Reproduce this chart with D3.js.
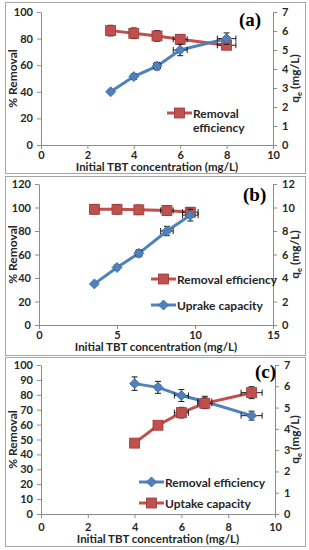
<!DOCTYPE html>
<html lang="en">
<head>
    <meta charset="UTF-8">
    <title>TBT removal</title>
    <script src="https://d3js.org/d3.v7.min.js"></script>
    <style>
        body { margin: 0; background: #fff; }
        svg { display: block; }
        text {
            font-family: Lato, "Liberation Sans", sans-serif;
            font-weight: 700;
            fill: #262626;
        }
        .panelLabel { font-family: "Liberation Serif", "DejaVu Serif", serif; font-size: 19px; fill: #000; }
        .axis path, .axis line { stroke: #8c8c8c; }
    </style>
</head>
<body>
<svg id="chart" width="309" height="550"></svg>

<script>
    // ---- data ----
    // panel (a)
    const concA = [3, 4, 5, 6, 8];
    const removalA = [86, 84, 82, 79.5, 75];
    const uptakeA = [2.8, 3.6, 4.15, 5.0, 5.6];
    const concErrA = [0, 0, 0.15, 0.3, 0.4];
    const removalErrA = [4, 4, 4, 3.5, 3];
    const uptakeErrA = [0.1, 0.15, 0.2, 0.3, 0.3];

    // panel (b)
    const concB = [3.55, 5, 6.4, 8.2, 9.7];
    const removalB = [98.5, 98.5, 98, 97.5, 96];
    const uptakeB = [3.5, 4.9, 6.1, 8.0, 9.35];
    const concErrB = [0, 0, 0.2, 0.4, 0.5];
    const removalErrB = [4, 4, 4, 4, 4];
    const uptakeErrB = [0.1, 0.2, 0.3, 0.4, 0.5];

    // panel (c)
    const concC = [4, 5, 6, 7, 9];
    const removalC = [87.5, 85, 79.5, 75.5, 66];
    const uptakeC = [3.33, 4.17, 4.76, 5.2, 5.7];
    const concErrC = [0, 0.1, 0.3, 0.3, 0.45];
    const removalErrC = [4.5, 4, 4, 3.5, 3];
    const uptakeErrC = [0.1, 0.15, 0.25, 0.25, 0.28];

    const xTitle = "Initial TBT concentration (mg/L)";
    const leftTitle = "% Removal";

    const red = { fill: "#c0504d", dark: "#9b3a37", shape: "square" };
    const blue = { fill: "#4f81bd", dark: "#3a689f", shape: "diamond" };

    const panels = [
        {
            label: "(a)", box: [5, 2, 305, 173], plot: [41, 12, 273, 145],
            xDomain: [0, 10], xTicks: [0, 2, 4, 6, 8, 10],
            left: [0, 100], leftTicks: d3.range(0, 101, 20),
            right: [0, 7], rightTicks: d3.range(0, 8, 1),
            tickY: 155, titleY: 167,
            series: [
                { name: ["Removal", "efficiency"], x: concA, y: removalA, yErr: removalErrA, xErr: concErrA, axis: "left", style: red, legend: [167, 113] },
                { name: null, x: concA, y: uptakeA, yErr: uptakeErrA, xErr: concErrA, axis: "right", style: blue }
            ],
            labelPos: [239, 26]
        },
        {
            label: "(b)", box: [5, 176, 305, 355], plot: [39, 184, 273, 325],
            xDomain: [0, 15], xTicks: [0, 5, 10, 15],
            left: [0, 120], leftTicks: d3.range(0, 121, 20),
            right: [0, 12], rightTicks: d3.range(0, 13, 2),
            tickY: 335, titleY: 347,
            series: [
                { name: ["Removal efficiency"], x: concB, y: removalB, yErr: removalErrB, xErr: concErrB, axis: "left", style: red, legend: [151, 279] },
                { name: ["Uprake capacity"], x: concB, y: uptakeB, yErr: uptakeErrB, xErr: concErrB, axis: "right", style: blue, legend: [151, 305] }
            ],
            labelPos: [243, 201]
        },
        {
            label: "(c)", box: [5, 357, 305, 546], plot: [41, 365, 275, 514],
            xDomain: [0, 10], xTicks: [0, 2, 4, 6, 8, 10],
            left: [0, 100], leftTicks: d3.range(0, 101, 10),
            right: [0, 7], rightTicks: d3.range(0, 8, 1),
            tickY: 527, titleY: 539,
            series: [
                { name: ["Removal efficiency"], x: concC, y: removalC, yErr: removalErrC, xErr: concErrC, axis: "left", style: blue, legend: [139, 482] },
                { name: ["Uptake capacity"], x: concC, y: uptakeC, yErr: uptakeErrC, xErr: concErrC, axis: "right", style: red, legend: [139, 503] }
            ],
            labelPos: [255, 378]
        }
    ];

    const svg = d3.select("#chart");

    function marker(g, shape, style, cx, cy) {
        if (shape === "square") {
            g.append("rect")
                .attr("x", cx - 5).attr("y", cy - 5)
                .attr("width", 10).attr("height", 10)
                .attr("fill", style.fill).attr("stroke", style.dark).attr("stroke-width", 0.8);
        } else {
            g.append("path")
                .attr("d", `M${cx},${cy - 5}L${cx + 5},${cy}L${cx},${cy + 5}L${cx - 5},${cy}Z`)
                .attr("fill", style.fill).attr("stroke", style.dark).attr("stroke-width", 0.8);
        }
    }

    function drawPanel(p) {
        const g = svg.append("g");
        const [bx0, by0, bx1, by1] = p.box;
        const [l, t, r, b] = p.plot;

        // chart area border
        g.append("rect")
            .attr("x", bx0 + 0.5).attr("y", by0 + 0.5)
            .attr("width", bx1 - bx0).attr("height", by1 - by0)
            .attr("fill", "none").attr("stroke", "#a6a6a6");

        const x = d3.scaleLinear().domain(p.xDomain).range([l, r]);
        const yL = d3.scaleLinear().domain(p.left).range([b, t]);
        const yR = d3.scaleLinear().domain(p.right).range([b, t]);

        // axes
        const xAxis = g.append("g").attr("class", "axis").attr("transform", `translate(0,${b})`)
            .call(d3.axisBottom(x).tickValues(p.xTicks).tickSize(4).tickSizeOuter(0).tickFormat(d3.format("d")));
        xAxis.selectAll("text").attr("y", null).attr("dy", null)
            .attr("transform", `translate(0,${p.tickY - b + 4})`)
            .style("font-size", "11px");

        const leftAxis = g.append("g").attr("class", "axis").attr("transform", `translate(${l},0)`)
            .call(d3.axisLeft(yL).tickValues(p.leftTicks).tickSize(4).tickSizeOuter(0).tickFormat(d3.format("d")));
        leftAxis.selectAll("text").attr("x", -8).style("font-size", "11px");

        const rightAxis = g.append("g").attr("class", "axis").attr("transform", `translate(${r},0)`)
            .call(d3.axisRight(yR).tickValues(p.rightTicks).tickSize(4).tickSizeOuter(0).tickFormat(d3.format("d")));
        rightAxis.selectAll("text").attr("x", 9).style("font-size", "11px");
        g.selectAll(".axis .domain").attr("stroke", "#8c8c8c");

        // axis titles
        g.append("text")
            .attr("x", (l + r) / 2).attr("y", p.titleY + 4)
            .attr("text-anchor", "middle").style("font-size", "11.5px")
            .text(xTitle);

        g.append("text")
            .attr("transform", `translate(${bx0 + 12},${(t + b) / 2}) rotate(-90)`)
            .attr("text-anchor", "middle").style("font-size", "12px")
            .text(leftTitle);

        const rt = g.append("text")
            .attr("transform", `translate(${bx1 - 6},${(t + b) / 2}) rotate(-90)`)
            .attr("text-anchor", "middle").style("font-size", "12px");
        rt.append("tspan").text("q");
        rt.append("tspan").attr("dy", 3).style("font-size", "7.5px").text("e");
        rt.append("tspan").attr("dy", -3).text(" (mg/L)");

        // panel label
        g.append("text").attr("class", "panelLabel")
            .attr("x", p.labelPos[0]).attr("y", p.labelPos[1])
            .text(p.label);

        // series
        p.series.forEach(s => {
            const yS = s.axis === "left" ? yL : yR;
            const pts = s.x.map((v, i) => ({ x: v, y: s.y[i], ye: s.yErr[i], xe: s.xErr[i] }));
            const sg = g.append("g");

            sg.append("path")
                .datum(pts)
                .attr("fill", "none")
                .attr("stroke", s.style.fill)
                .attr("stroke-width", 3)
                .attr("d", d3.line().x(d => x(d.x)).y(d => yS(d.y)));

            // error bars
            const eb = sg.append("g").attr("stroke", "#1a1a1a").attr("stroke-width", 1);
            pts.forEach(d => {
                const cx = x(d.x), cy = yS(d.y);
                const y0 = yS(d.y - d.ye), y1 = yS(d.y + d.ye);
                eb.append("line").attr("x1", cx).attr("x2", cx).attr("y1", y0).attr("y2", y1);
                eb.append("line").attr("x1", cx - 3).attr("x2", cx + 3).attr("y1", y0).attr("y2", y0);
                eb.append("line").attr("x1", cx - 3).attr("x2", cx + 3).attr("y1", y1).attr("y2", y1);
                if (d.xe > 0) {
                    const x0 = x(d.x - d.xe), x1 = x(d.x + d.xe);
                    eb.append("line").attr("x1", x0).attr("x2", x1).attr("y1", cy).attr("y2", cy);
                    eb.append("line").attr("x1", x0).attr("x2", x0).attr("y1", cy - 3).attr("y2", cy + 3);
                    eb.append("line").attr("x1", x1).attr("x2", x1).attr("y1", cy - 3).attr("y2", cy + 3);
                }
            });

            pts.forEach(d => marker(sg, s.style.shape, s.style, x(d.x), yS(d.y)));

            // legend entry
            if (s.name) {
                const [lx, ly] = s.legend;
                const lg = g.append("g");
                lg.append("line")
                    .attr("x1", lx).attr("x2", lx + 25).attr("y1", ly).attr("y2", ly)
                    .attr("stroke", s.style.fill).attr("stroke-width", 3);
                marker(lg, s.style.shape, s.style, lx + 12.5, ly);
                s.name.forEach((line, i) => {
                    lg.append("text")
                        .attr("x", lx + 26).attr("y", ly + 4.5 + i * 14)
                        .style("font-size", "12px")
                        .text(line);
                });
            }
        });
    }

    panels.forEach(drawPanel);
</script>
</body>
</html>
